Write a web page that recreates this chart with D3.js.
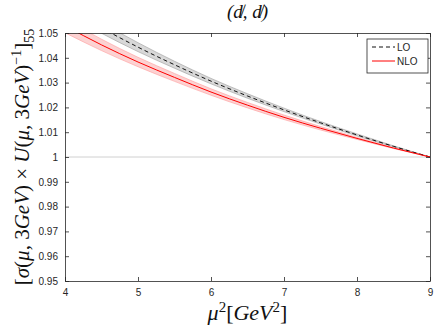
<!DOCTYPE html>
<html>
<head>
<meta charset="UTF-8">
<script src="https://d3js.org/d3.v7.min.js"></script>
<style>
  body { margin: 0; background: #fff; }
  svg { display: block; }
  .tick text { font-family: "Liberation Sans", Arial, sans-serif; font-size: 10px; fill: #262626; }
</style>
</head>
<body>
<div id="chart"></div>
<script>
// mu^2 sample points [GeV^2]
const mu2 = [4, 4.5, 5, 5.5, 6, 6.5, 7, 7.5, 8, 8.5, 9];

// LO central + band
const loMid = [1.0608, 1.0521, 1.0443, 1.0372, 1.0306, 1.0246, 1.0190, 1.0138, 1.0089, 1.0043, 1.0];
const loUp  = [1.0635, 1.0543, 1.0461, 1.0386, 1.0317, 1.0255, 1.0197, 1.0143, 1.0093, 1.0045, 1.0];
const loLow = [1.0581, 1.0499, 1.0425, 1.0358, 1.0295, 1.0237, 1.0183, 1.0133, 1.0085, 1.0041, 1.0];

// NLO central + band
const nloMid = [1.0529, 1.0452, 1.0383, 1.0321, 1.0262, 1.0209, 1.0160, 1.0116, 1.0075, 1.0036, 1.0];
const nloUp  = [1.0557, 1.0475, 1.0402, 1.0337, 1.0275, 1.0220, 1.0169, 1.0123, 1.0079, 1.0038, 1.0];
const nloLow = [1.0501, 1.0429, 1.0364, 1.0305, 1.0249, 1.0198, 1.0151, 1.0109, 1.0071, 1.0034, 1.0];

const xTicks = [4, 5, 6, 7, 8, 9];
const yTicks = [0.95, 0.96, 0.97, 0.98, 0.99, 1, 1.01, 1.02, 1.03, 1.04, 1.05];

const W = 436, H = 327;
const margin = { top: 33, right: 6, bottom: 46, left: 65 };
const width = W - margin.left - margin.right;
const height = H - margin.top - margin.bottom;

const svg = d3.select("#chart").append("svg").attr("width", W).attr("height", H);

const x = d3.scaleLinear().domain([4, 9]).range([0, width]);
const y = d3.scaleLinear().domain([0.95, 1.05]).range([height, 0]);

svg.append("defs").append("clipPath").attr("id", "clip")
  .append("rect").attr("width", width).attr("height", height);

const g = svg.append("g").attr("transform", `translate(${margin.left},${margin.top})`);
const plot = g.append("g").attr("clip-path", "url(#clip)");

// reference line at 1
plot.append("line")
  .attr("x1", 0).attr("x2", width)
  .attr("y1", y(1)).attr("y2", y(1))
  .attr("stroke", "#d0d0d0").attr("stroke-width", 1);

const idx = d3.range(mu2.length);
const area = (lo, up) => d3.area().curve(d3.curveMonotoneX)
  .x(i => x(mu2[i])).y0(i => y(lo[i])).y1(i => y(up[i]));
const line = arr => d3.line().curve(d3.curveMonotoneX)
  .x(i => x(mu2[i])).y(i => y(arr[i]));

// bands
plot.append("path").datum(idx).attr("d", area(loLow, loUp))
  .attr("fill", "#d8d8d8").attr("stroke", "none");
plot.append("path").datum(idx).attr("d", line(loUp)).attr("fill", "none").attr("stroke", "#9a9a9a").attr("stroke-width", 0.6);
plot.append("path").datum(idx).attr("d", line(loLow)).attr("fill", "none").attr("stroke", "#9a9a9a").attr("stroke-width", 0.6);

plot.append("path").datum(idx).attr("d", area(nloLow, nloUp))
  .attr("fill", "#fcd2d2").attr("stroke", "none");
plot.append("path").datum(idx).attr("d", line(nloUp)).attr("fill", "none").attr("stroke", "#ff9c9c").attr("stroke-width", 0.6);
plot.append("path").datum(idx).attr("d", line(nloLow)).attr("fill", "none").attr("stroke", "#ff9c9c").attr("stroke-width", 0.6);

// central lines
plot.append("path").datum(idx).attr("d", line(loMid))
  .attr("fill", "none").attr("stroke", "#111").attr("stroke-width", 1)
  .attr("stroke-dasharray", "4,3");
plot.append("path").datum(idx).attr("d", line(nloMid))
  .attr("fill", "none").attr("stroke", "#ff0000").attr("stroke-width", 1);

// axes (matlab style, ticks inward, box)
const axCol = "#262626";
const xb = g.append("g").attr("transform", `translate(0,${height})`)
  .call(d3.axisBottom(x).tickValues(xTicks).tickSizeInner(-4).tickSizeOuter(0).tickPadding(8).tickFormat(d3.format("d")));
const yl = g.append("g")
  .call(d3.axisLeft(y).tickValues(yTicks).tickSizeInner(-4).tickSizeOuter(0).tickPadding(7).tickFormat(d3.format("~g")));
const xt = g.append("g")
  .call(d3.axisTop(x).tickValues(xTicks).tickSizeInner(-4).tickSizeOuter(0).tickFormat(""));
const yr = g.append("g").attr("transform", `translate(${width},0)`)
  .call(d3.axisRight(y).tickValues(yTicks).tickSizeInner(-4).tickSizeOuter(0).tickFormat(""));
[xb, yl, xt, yr].forEach(a => {
  a.selectAll("path, line").attr("stroke", axCol).attr("stroke-width", 0.8);
});

// legend
const leg = g.append("g").attr("transform", `translate(${width - 63},6)`);
leg.append("rect").attr("width", 61).attr("height", 34)
  .attr("fill", "#fff").attr("stroke", axCol).attr("stroke-width", 0.8);
leg.append("line").attr("x1", 5).attr("x2", 28).attr("y1", 8).attr("y2", 8)
  .attr("stroke", "#111").attr("stroke-width", 1).attr("stroke-dasharray", "4,3");
leg.append("text").attr("x", 30).attr("y", 11.5).text("LO")
  .attr("font-family", "Liberation Sans, Arial, sans-serif").attr("font-size", 10).attr("fill", axCol);
leg.append("line").attr("x1", 5).attr("x2", 28).attr("y1", 22).attr("y2", 22)
  .attr("stroke", "#ff0000").attr("stroke-width", 1);
leg.append("text").attr("x", 30).attr("y", 25.5).text("NLO")
  .attr("font-family", "Liberation Sans, Arial, sans-serif").attr("font-size", 10).attr("fill", axCol);

// title
svg.append("text")
  .attr("x", margin.left + width / 2).attr("y", 18)
  .attr("text-anchor", "middle")
  .attr("font-family", "Liberation Serif, DejaVu Serif, serif")
  .attr("font-size", 19).attr("font-style", "italic").attr("fill", "#111")
  .text("(d\u0338, d\u0338)");

// x label
const xl = svg.append("text")
  .attr("x", margin.left + width / 2).attr("y", 320)
  .attr("text-anchor", "middle")
  .attr("font-family", "Liberation Serif, DejaVu Serif, serif")
  .attr("font-size", 22).attr("font-style", "italic").attr("fill", "#111");
xl.append("tspan").text("μ");
xl.append("tspan").attr("dy", -8).attr("font-size", 15).attr("font-style", "normal").text("2");
xl.append("tspan").attr("dy", 8).attr("font-style", "normal").text("[");
xl.append("tspan").text("GeV");
xl.append("tspan").attr("dy", -8).attr("font-size", 15).attr("font-style", "normal").text("2");
xl.append("tspan").attr("dy", 8).attr("font-style", "normal").text("]");

// y label
const ylab = svg.append("text")
  .attr("transform", `translate(29,${157}) rotate(-90)`)
  .attr("text-anchor", "middle")
  .attr("font-family", "Liberation Serif, DejaVu Serif, serif")
  .attr("font-size", 21).attr("fill", "#111");
ylab.append("tspan").text("[");
ylab.append("tspan").attr("font-style", "italic").text("σ");
ylab.append("tspan").text("(");
ylab.append("tspan").attr("font-style", "italic").text("μ");
ylab.append("tspan").text(", 3");
ylab.append("tspan").attr("font-style", "italic").text("GeV");
ylab.append("tspan").text(") × ");
ylab.append("tspan").attr("font-style", "italic").text("U");
ylab.append("tspan").text("(");
ylab.append("tspan").attr("font-style", "italic").text("μ");
ylab.append("tspan").text(", 3");
ylab.append("tspan").attr("font-style", "italic").text("GeV");
ylab.append("tspan").text(")");
ylab.append("tspan").attr("dy", -8).attr("font-size", 14).text("−1");
ylab.append("tspan").attr("dy", 8).text("]");
ylab.append("tspan").attr("dy", 5).attr("font-size", 14).text("55");
</script>
</body>
</html>
